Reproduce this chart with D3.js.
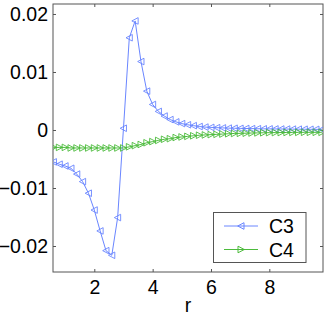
<!DOCTYPE html>
<html><head><meta charset="utf-8">
<script src="https://cdn.jsdelivr.net/npm/d3@7"></script>
<style>body{margin:0;background:#fff}svg{display:block}text{font-family:"Liberation Sans",Arial,sans-serif}</style>
</head><body>
<svg id="c" width="327" height="317"></svg>
<script>
const r = d3.range(47).map(i => +(0.6 + 0.2 * i).toFixed(1));
const c3 = [-0.0055,-0.0059,-0.0062,-0.0066,-0.0076,-0.0089,-0.0109,-0.0138,-0.0174,-0.0208,
  -0.0216,-0.0151,0.0003,0.0159,0.0188,0.0118,0.0067,0.0044,0.0032,0.0024,
  0.0018,0.0014,0.0011,0.0009,0.00075,0.0006,0.0005,0.00045,0.0004,0.00036,
  0.00032,0.0003,0.00028,0.00026,0.00024,0.00022,0.0002,0.00019,0.00018,0.00017,
  0.00016,0.00015,0.00014,0.00013,0.00012,0.00011,0.0001];
const c4 = [-0.0030,-0.0030,-0.0030,-0.0031,-0.0031,-0.0031,-0.0031,-0.0031,-0.0031,-0.0031,
  -0.0031,-0.0031,-0.0031,-0.0029,-0.0027,-0.0025,-0.0022,-0.0020,-0.0018,-0.0016,
  -0.0015,-0.0013,-0.0012,-0.0011,-0.0010,-0.0009,-0.00085,-0.0008,-0.00075,-0.0007,
  -0.00065,-0.0006,-0.00058,-0.00055,-0.00052,-0.0005,-0.00048,-0.00046,-0.00045,-0.00044,
  -0.00043,-0.00042,-0.00041,-0.0004,-0.0004,-0.0004,-0.0004];
const xTicks = [2,4,6,8];
const yTicks = [-0.02,-0.01,0,0.01,0.02];
const yTickLabels = ["\u22120.02","\u22120.01","0","0.01","0.02"];
const seriesNames = ["C3","C4"];
const colors = ["#6a86ff","#4cbb3c"];

const L=53,R=323,T=4,B=272;
const FS=19.5;
const x = d3.scaleLinear().domain([0.584,9.84]).range([L,R]);
const y = d3.scaleLinear().domain([-0.02448,0.02172]).range([B,T]);
const svg = d3.select("#c");
const axisColor="#555";

const g = svg.append("g");
const ax = (sel)=>sel.call(s=>s.select(".domain").remove()).call(s=>s.selectAll("line").attr("stroke",axisColor));
g.append("g").attr("transform",`translate(0,${B})`).call(d3.axisBottom(x).tickValues(xTicks).tickSizeInner(-3).tickSizeOuter(0).tickPadding(8).tickFormat(d3.format("d")))
 .call(ax).selectAll("text").attr("font-size",FS).attr("fill","#000");
g.append("g").attr("transform",`translate(0,${T})`).call(d3.axisTop(x).tickValues(xTicks).tickSizeInner(-3).tickSizeOuter(0).tickFormat(""))
 .call(ax);
g.append("g").attr("transform",`translate(${L},0)`).call(d3.axisLeft(y).tickValues(yTicks).tickSizeInner(-3).tickSizeOuter(0).tickPadding(5).tickFormat((d,i)=>yTickLabels[i]))
 .call(ax).selectAll("text").attr("font-size",FS).attr("fill","#000");
g.append("g").attr("transform",`translate(${R},0)`).call(d3.axisRight(y).tickValues(yTicks).tickSizeInner(-3).tickSizeOuter(0).tickFormat(""))
 .call(ax);
svg.selectAll(".tick text").attr("font-family",'"Liberation Sans",Arial,sans-serif');
svg.append("rect").attr("x",L).attr("y",T).attr("width",R-L).attr("height",B-T).attr("fill","none").attr("stroke",axisColor).attr("stroke-width",1);

svg.append("clipPath").attr("id","cp").append("rect").attr("x",L).attr("y",T).attr("width",R-L).attr("height",B-T);
const plot = svg.append("g").attr("clip-path","url(#cp)");
const line = d3.line().x(d=>x(d[0])).y(d=>y(d[1]));
const triLeft = "M-3.3,0L3,-3.3L3,3.3Z";
const triRight = "M3.3,0L-3,-3.3L-3,3.3Z";
const series = [c3,c4];
const marks = [triLeft,triRight];
series.forEach((vals,k)=>{
  const pts = r.map((rv,i)=>[rv,vals[i]]);
  plot.append("path").datum(pts).attr("d",line).attr("fill","none").attr("stroke",colors[k]).attr("stroke-width",1);
  plot.selectAll(null).data(pts).enter().append("path").attr("d",marks[k])
    .attr("transform",d=>`translate(${x(d[0])},${y(d[1])})`).attr("fill","none").attr("stroke",colors[k]).attr("stroke-width",0.9);
});

svg.append("text").attr("x",188).attr("y",312).attr("text-anchor","middle").attr("font-size",FS).text("r");

const lg = svg.append("g");
lg.append("rect").attr("x",213.5).attr("y",212.5).attr("width",92.5).attr("height",50).attr("fill","#fff").attr("stroke",axisColor);
seriesNames.forEach((n,k)=>{
  const yy = [226,249.5][k];
  lg.append("line").attr("x1",224).attr("x2",258).attr("y1",yy).attr("y2",yy).attr("stroke",colors[k]);
  lg.append("path").attr("d",marks[k]).attr("transform",`translate(241,${yy})`).attr("fill","none").attr("stroke",colors[k]);
  lg.append("text").attr("x",269).attr("y",yy+7).attr("font-size",FS).text(n);
});
</script>
</body></html>
